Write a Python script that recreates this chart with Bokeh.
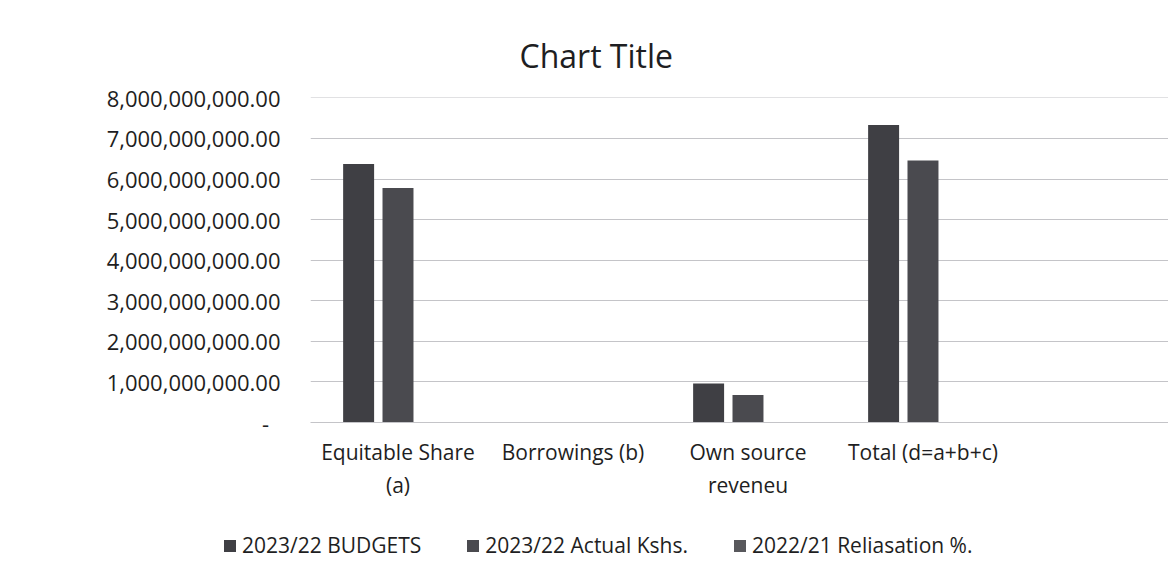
from bokeh.plotting import figure
from bokeh.layouts import column
from bokeh.models import (Range1d, FixedTicker, NumeralTickFormatter, ColumnDataSource,
                          Legend, LegendItem)
from bokeh.transform import dodge
from bokeh.embed import file_html
from bokeh.resources import INLINE

# ---- data ----
categories = ["Equitable Share\n(a)", "Borrowings (b)", "Own source\nreveneu", "Total (d=a+b+c)"]
budgets_2023 = [6.37e9, 0.0, 0.96e9, 7.33e9]
actual_2023 = [5.78e9, 0.0, 0.68e9, 6.46e9]
realisation_pct = [90.7, 0.0, 70.8, 88.1]
series_names = ["2023/22 BUDGETS", "2023/22 Actual Kshs.", "2022/21 Reliasation %."]
y_ticks = [0, 1e9, 2e9, 3e9, 4e9, 5e9, 6e9, 7e9, 8e9]

FONT = "Open Sans"
TEXT = "#1e1e22"
GRID = "#c4c4c8"
colors = ["#3f3f44", "#4a4a4f", "#58585c"]
offsets = [-0.225, 0.0, 0.225]
bw = 0.177

xpos = [i + 0.5 for i in range(len(categories))]
src = ColumnDataSource(dict(x=xpos, b=budgets_2023, a=actual_2023, r=realisation_pct))
fields = ["b", "a", "r"]

W = 1168
p = figure(width=W, height=505,
           x_range=Range1d(0, 4.903), y_range=Range1d(0, 8.01e9),
           output_backend="svg", toolbar_location=None,
           min_border_left=310, min_border_right=0,
           min_border_top=97, min_border_bottom=83)
p.frame_align = False
p.outline_line_color = None
p.background_fill_color = "white"
p.border_fill_color = "white"

for f, off, c in zip(fields, offsets, colors):
    p.vbar(x=dodge("x", off), top=f, width=bw, source=src, fill_color=c, line_color=None)

# axes
p.yaxis.ticker = FixedTicker(ticks=y_ticks)
p.yaxis.formatter = NumeralTickFormatter(format="0,0.00")
p.yaxis.major_label_overrides = {0: "-\u00a0\u00a0"}
p.yaxis.axis_line_color = None
p.yaxis.major_tick_line_color = None
p.yaxis.minor_tick_line_color = None
p.yaxis.major_tick_out = 0
p.yaxis.minor_tick_out = 0
p.yaxis.major_label_standoff = 30
p.yaxis.major_label_text_font = FONT
p.yaxis.major_label_text_font_size = "22px"
p.yaxis.major_label_text_color = TEXT

p.xaxis.ticker = FixedTicker(ticks=xpos)
p.xaxis.major_label_overrides = {x: c for x, c in zip(xpos, categories)}
p.xaxis.axis_line_color = GRID
p.xaxis.major_tick_line_color = None
p.xaxis.minor_tick_line_color = None
p.xaxis.major_tick_out = 0
p.xaxis.minor_tick_out = 0
p.xaxis.major_label_standoff = 15
p.xaxis.major_label_text_font = FONT
p.xaxis.major_label_text_font_size = "21px"
p.xaxis.major_label_text_color = TEXT

p.xgrid.grid_line_color = None
p.ygrid.grid_line_color = GRID
p.ygrid.grid_line_width = 1

# title
p.title.text = "Chart Title"
p.title.text_font = FONT
p.title.text_font_size = "32px"
p.title.text_font_style = "normal"
p.title.text_color = TEXT
p.title.align = "left"
p.title.offset = 209
p.title.standoff = 41

# legend strip below the chart
lg = figure(width=W, height=70, x_range=Range1d(0, 1), y_range=Range1d(0, 1),
            output_backend="svg", toolbar_location=None,
            min_border_left=0, min_border_right=0, min_border_top=0, min_border_bottom=0,
            x_axis_location=None, y_axis_location=None)
lg.frame_align = False
lg.outline_line_color = None
lg.xgrid.grid_line_color = None
lg.ygrid.grid_line_color = None
lg.background_fill_color = "white"
lg.border_fill_color = "white"
items = []
for f, off, c, name in zip(fields, offsets, colors, series_names):
    r = lg.vbar(x=dodge("x", off), top=f, width=bw, source=src, fill_color=c, line_color=None,
                visible=False)
    items.append(LegendItem(label=name, renderers=[r]))

legend = Legend(items=items, orientation="horizontal", location=(222, 16))
legend.label_text_font = FONT
legend.label_text_font_size = "21px"
legend.label_text_color = TEXT
legend.glyph_width = 15
legend.glyph_height = 15
legend.label_standoff = 5
legend.spacing = 44
legend.padding = 0
legend.margin = 0
legend.border_line_alpha = 0
legend.background_fill_alpha = 0
lg.add_layout(legend)

layout = column(p, lg, spacing=0)
open("out.html", "w").write(file_html(layout, INLINE))
